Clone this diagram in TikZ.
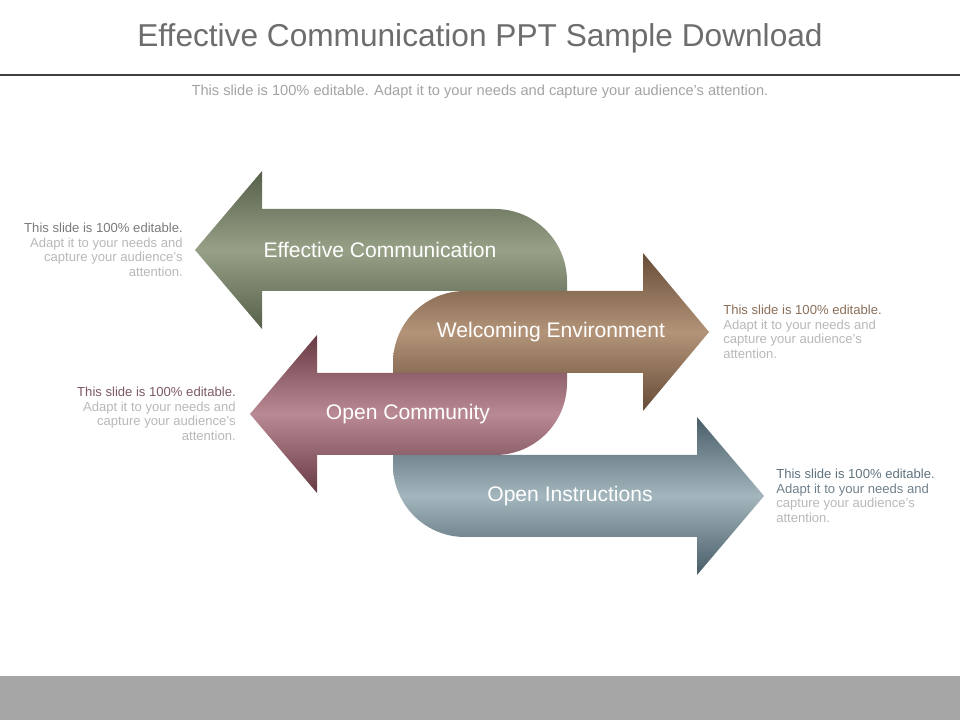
\documentclass[tikz,border=0pt]{standalone}
\usepackage{fontspec}
\setmainfont{Liberation Sans}
\usetikzlibrary{positioning}
\definecolor{titlegray}{HTML}{6D6D6D}
\definecolor{subgray}{HTML}{A3A3A3}
\definecolor{rulegray}{HTML}{3F3F3F}
\definecolor{bandgray}{HTML}{A6A6A6}
\definecolor{sidegray}{HTML}{B8B8B8}
\definecolor{grnDark}{HTML}{56604A}
\definecolor{grnLight}{HTML}{97A187}
\definecolor{brnDark}{HTML}{664B36}
\definecolor{brnLight}{HTML}{B39479}
\definecolor{pnkDark}{HTML}{683A44}
\definecolor{pnkLight}{HTML}{B98A93}
\definecolor{bluDark}{HTML}{485C68}
\definecolor{bluLight}{HTML}{A3B6BD}
\definecolor{grnText}{HTML}{7A7A7A}
\definecolor{brnText}{HTML}{8B6F5A}
\definecolor{pnkText}{HTML}{7D5A62}
\definecolor{bluText}{HTML}{5F7380}
\tikzset{
  greenarrow/.style={top color=grnDark, bottom color=grnDark, middle color=grnLight},
  brownarrow/.style={top color=brnDark, bottom color=brnDark, middle color=brnLight},
  pinkarrow/.style={top color=pnkDark, bottom color=pnkDark, middle color=pnkLight},
  bluearrow/.style={top color=bluDark, bottom color=bluDark, middle color=bluLight},
  arrowlabel/.style={text=white, font=\fontsize{15}{18}\selectfont},
  sidetext/.style={text=sidegray, font=\fontsize{9.3}{10.3}\selectfont, inner sep=0pt},
}
\begin{document}
\begin{tikzpicture}[x=0.025cm, y=-0.025cm]
    \useasboundingbox (0,0) rectangle (960,720);
    \path [fill=bandgray] (0,676) rectangle (960,720);
    \node (title) at (480,38) [text=titlegray, font=\fontsize{22.5}{26}\selectfont] {Effective Communication PPT Sample Download};
    \coordinate (ruleL) at (0,75);
    \coordinate (ruleR) at (960,75);
    \path [draw=rulegray, line width=2.1pt] (ruleL) -- (ruleR);
    \node (subtitle) at (480,92) [text=subgray, font=\fontsize{10.4}{12}\selectfont] {This slide is 100\% editable. Adapt it to your needs and capture your audience's attention.};

    \coordinate (ecTip) at (195,250);
    \coordinate (weTip) at (709,332);
    \coordinate (ocTip) at (250,414);
    \coordinate (oiTip) at (764,496);

    \path [greenarrow] (ecTip) -- (262,171) -- (262,209) -- (495,209) .. controls (534.8,209) and (567,241.2) .. (567,281) -- (567,291) -- (262,291) -- (262,329) -- cycle;
    \path [brownarrow] (weTip) -- (643,411) -- (643,373) -- (393,373) -- (393,363) .. controls (393,323.2) and (425.2,291) .. (465,291) -- (643,291) -- (643,253) -- cycle;
    \path [pinkarrow] (ocTip) -- (317,335) -- (317,373) -- (567,373) -- (567,383) .. controls (567,422.8) and (534.8,455) .. (495,455) -- (317,455) -- (317,493) -- cycle;
    \path [bluearrow] (oiTip) -- (697,417) -- (697,455) -- (393,455) -- (393,465) .. controls (393,504.8) and (425.2,537) .. (465,537) -- (697,537) -- (697,575) -- cycle;

    \node (ecLabel) at (380,250) [arrowlabel] {Effective Communication};
    \node (weLabel) at (551,332) [arrowlabel] {Welcoming Environment};
    \node (ocLabel) at (408,414) [arrowlabel] {Open Community};
    \node (oiLabel) at (570,496) [arrowlabel] {Open Instructions};

    \node (ecText) [sidetext, align=right, left=0.3cm of ecTip] {{\color{grnText}This slide is 100\% editable.}\\Adapt it to your needs and\\capture your audience's\\attention.};
    \node (weText) [sidetext, align=left, right=0.35cm of weTip] {{\color{brnText}This slide is 100\% editable.}\\Adapt it to your needs and\\capture your audience's\\attention.};
    \node (ocText) [sidetext, align=right, left=0.35cm of ocTip] {{\color{pnkText}This slide is 100\% editable.}\\Adapt it to your needs and\\capture your audience's\\attention.};
    \node (oiText) [sidetext, align=left, right=0.3cm of oiTip] {{\color{bluText}This slide is 100\% editable.}\\{\color{bluText!80!sidegray}Adapt it to your needs and}\\capture your audience's\\attention.};
\end{tikzpicture}
\end{document}
